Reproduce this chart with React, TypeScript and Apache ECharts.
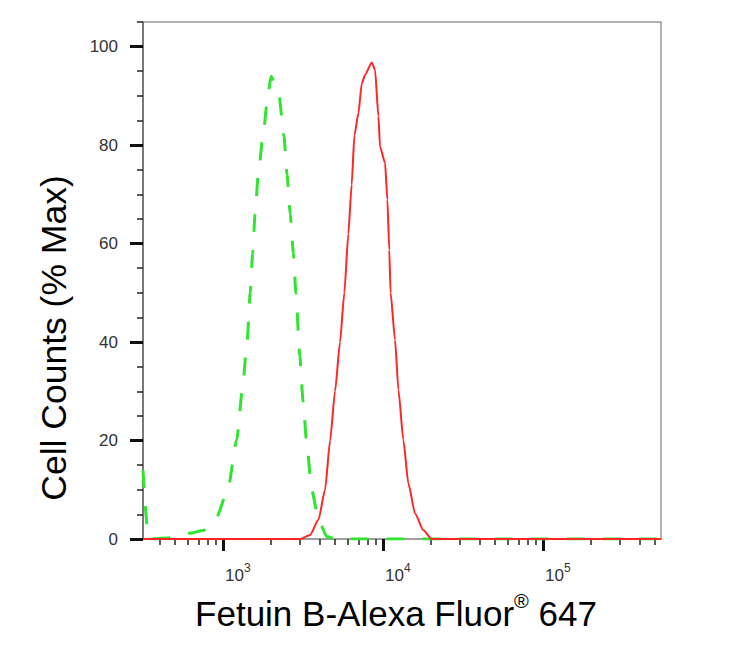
import React, { useEffect, useRef } from 'react';
import * as echarts from 'echarts';

// x range of the plot (fluorescence intensity, log scale)
const xMin = 316;
const xMax = 546000;

// isotype / control (green dashed): intensity and % max
const greenX = [316, 335, 350, 447, 537, 631, 759, 912, 1072, 1216, 1318, 1413, 1479, 1531, 1585, 1660, 1778, 1905, 1995, 2239, 2399, 2512, 2630, 2754, 2851, 3020, 3162, 3334, 3581, 3945, 4446, 5012, 546000];
const greenY = [14, 3, 0, 0.2, 0.8, 1.2, 1.8, 4.5, 10, 20, 30, 40, 50, 58, 66, 74, 82, 90, 94, 90, 82, 74, 66, 58, 50, 37, 28, 19.5, 10, 4, 0.5, 0, 0];

// Fetuin B stained (red solid)
const redX = [316, 3020, 3499, 3945, 4341, 4667, 5012, 5383, 5728, 6067, 6368, 6622, 7015, 7362, 7720, 8492, 8913, 9354, 9572, 10292, 10641, 10940, 11143, 11885, 12474, 13397, 14388, 15849, 17865, 20137, 546000];
const redY = [0, 0, 0.8, 3.9, 10, 20, 30, 40, 50, 62, 72, 82, 86.5, 92.5, 94.3, 96.8, 95.3, 85.8, 79.7, 76.4, 68.9, 58.7, 50, 40.4, 30.3, 20.1, 11.3, 5.2, 1.8, 0, 0];

// axis ticks
const yMajor = [0, 20, 40, 60, 80, 100];
const yMinor = [5, 10, 15, 25, 30, 35, 45, 50, 55, 65, 70, 75, 85, 90, 95, 105];
const xDecades = [3, 4, 5];
const xMinor = [400, 500, 600, 700, 800, 900, 2000, 3000, 4000, 5000, 6000, 7000, 8000, 9000, 20000, 30000, 40000, 50000, 60000, 70000, 80000, 90000, 200000, 300000, 400000, 500000];

const FONT = '"Liberation Sans", Arial, sans-serif';

export default function App() {
  const chartRef = useRef<HTMLDivElement>(null);

  useEffect(() => {
    if (!chartRef.current) return;
    const chart = echarts.init(chartRef.current, undefined, { renderer: 'svg' });

    const lg = (v: number) => Math.log10(v);
    const xLo = lg(xMin);
    const xHi = lg(xMax);

    const option = {
      animation: false,
      backgroundColor: '#fff',
      grid: {
        left: 143,
        right: 83,
        top: 22,
        bottom: 109,
        show: true,
        borderColor: '#999',
        borderWidth: 1.5,
        containLabel: false
      },
      xAxis: [
        {
          type: 'value',
          min: xLo,
          max: xHi,
          splitLine: { show: false },
          axisLine: { show: true, lineStyle: { color: '#999', width: 1.5 } },
          axisTick: {
            show: true,
            customValues: xDecades,
            length: 12,
            lineStyle: { color: '#111', width: 3 }
          },
          axisLabel: {
            customValues: xDecades,
            align: 'left',
            margin: 23,
            padding: [0, 0, 0, 2],
            fontSize: 17,
            fontFamily: FONT,
            color: '#333',
            formatter: (v: number) => `{b|10}{s|${Math.round(v)}}`,
            rich: {
              b: { fontSize: 17, fontFamily: FONT, color: '#333', lineHeight: 22, verticalAlign: 'bottom' },
              s: { fontSize: 12, fontFamily: FONT, color: '#333', lineHeight: 22, verticalAlign: 'top' }
            }
          }
        },
        {
          type: 'value',
          min: xLo,
          max: xHi,
          position: 'bottom',
          splitLine: { show: false },
          axisLine: { show: false },
          axisLabel: { show: false },
          axisTick: {
            show: true,
            customValues: xMinor.map(lg),
            length: 6,
            lineStyle: { color: '#222', width: 1.5 }
          }
        }
      ],
      yAxis: [
        {
          type: 'value',
          min: 0,
          max: 105,
          splitLine: { show: false },
          axisLine: { show: true, lineStyle: { color: '#666', width: 1.5 } },
          axisTick: {
            show: true,
            customValues: yMajor,
            length: 13,
            lineStyle: { color: '#111', width: 3 }
          },
          axisLabel: {
            customValues: yMajor,
            margin: 25,
            fontSize: 17,
            fontFamily: FONT,
            color: '#333'
          }
        },
        {
          type: 'value',
          min: 0,
          max: 105,
          position: 'left',
          splitLine: { show: false },
          axisLine: { show: false },
          axisLabel: { show: false },
          axisTick: {
            show: true,
            customValues: yMinor,
            length: 6,
            lineStyle: { color: '#222', width: 1.5 }
          }
        }
      ],
      series: [
        {
          type: 'line',
          data: greenX.map((x, i) => [lg(x), greenY[i]]),
          showSymbol: false,
          smooth: 0.2,
          smoothMonotone: 'x',
          lineStyle: { color: '#2fe52f', width: 3, type: [18, 18] },
          z: 2
        },
        {
          type: 'line',
          data: redX.map((x, i) => [lg(x), redY[i]]),
          showSymbol: false,
          smooth: 0.2,
          smoothMonotone: 'x',
          lineStyle: { color: '#ff2626', width: 2 },
          z: 3
        }
      ],
      graphic: [
        {
          type: 'text',
          x: 54,
          y: 338,
          rotation: Math.PI / 2,
          style: {
            text: 'Cell Counts (% Max)',
            font: `35.5px ${FONT}`,
            fill: '#000',
            textAlign: 'center',
            textVerticalAlign: 'middle'
          }
        },
        {
          type: 'text',
          x: 396,
          y: 611,
          style: {
            text: '{a|Fetuin B-Alexa Fluor}{r|®}{a| 647}',
            textAlign: 'center',
            textVerticalAlign: 'middle',
            rich: {
              a: { fontSize: 35, fontFamily: FONT, fill: '#000', lineHeight: 40, verticalAlign: 'bottom' },
              r: { fontSize: 20, fontFamily: FONT, fill: '#000', lineHeight: 40, verticalAlign: 'top' }
            }
          }
        }
      ]
    };

    chart.setOption(option);
    return () => chart.dispose();
  }, []);

  return (
    <div
      ref={chartRef}
      style={{ position: 'fixed', left: 0, top: 0, width: 744, height: 648, background: '#fff' }}
    />
  );
}
